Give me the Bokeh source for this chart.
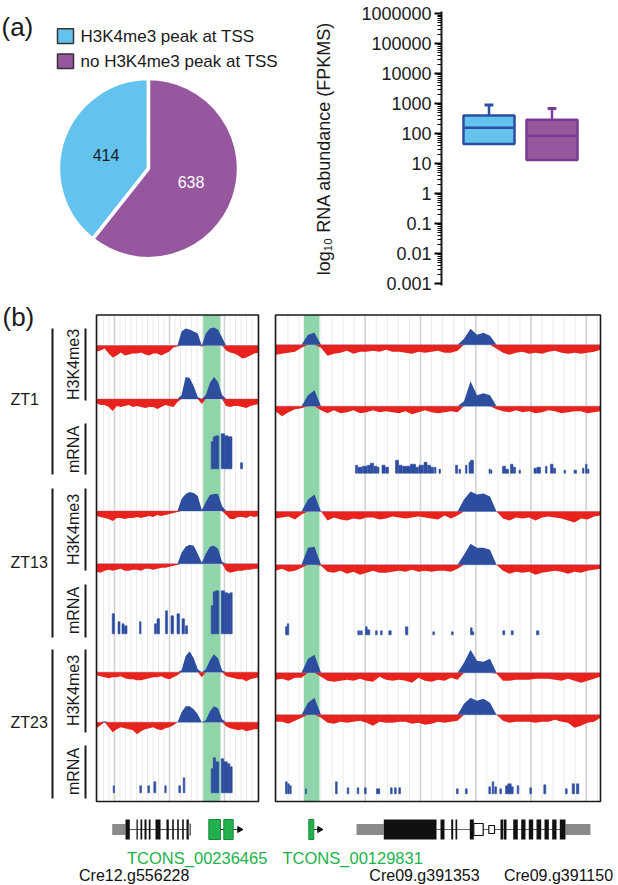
import numpy as np
from bokeh.plotting import figure
from bokeh.layouts import column, row
from bokeh.models import Range1d, FixedTicker, CustomJSTickFormatter
from bokeh.core.properties import value
from bokeh.embed import file_html
from bokeh.resources import INLINE

FONT = "Liberation Sans"

# ======================= (a) data =======================
pie_labels = ["H3K4me3 peak at TSS", "no H3K4me3 peak at TSS"]
pie_counts = [414, 638]
pie_colors = ["#63C3EE", "#96579F"]

box_x = [1, 2]
box_q1 = [45, 13]
box_median = [155, 85]
box_q3 = [400, 290]
box_whisker_high = [900, 680]
box_fill = ["#63C3EE", "#96579F"]
box_line = ["#2C4EA2", "#7A3C93"]
y_major_ticks = [0.001, 0.01, 0.1, 1, 10, 100, 1000, 10000, 100000, 1000000]

# ======================= (b) data =======================
# signal bins (kb within each browser window)
left_kb = np.linspace(0, 16.2, 41)
right_kb = np.linspace(0, 32.5, 51)

L_ZT1_a = [-6,-5,-3,-8,-12,-10,-7,-10,-9,-8,-8,-7,-9,-10,-8,-8,-10,-8,-6,-2,-1,14,17,16,14,12,-1,12,17,18,16,8,-5,-7,-8,-10,-13,-12,-10,-8,-7]
L_ZT1_b = [-4,-6,-6,-8,-12,-7,-8,-7,-6,-8,-7,-8,-9,-8,-8,-10,-8,-6,-7,-8,-3,4,22,21,13,2,-5,4,16,22,17,4,-7,-8,-7,-7,-8,-9,-7,-6,-5]
L_ZT13_a = [-5,-6,-7,-8,-10,-7,-7,-8,-7,-7,-6,-7,-6,-5,-6,-4,-5,-4,-3,-2,-1,12,17,19,18,15,1,9,16,17,17,5,-4,-8,-8,-6,-6,-7,-5,-6,-5]
L_ZT13_b = [-8,-9,-7,-6,-7,-6,-5,-7,-7,-6,-6,-7,-5,-5,-6,-5,-4,-4,-3,-2,-1,11,17,19,18,10,1,10,17,18,15,2,-7,-9,-8,-7,-7,-6,-6,-5,-5]
L_ZT23_a = [-3,-4,-5,-6,-5,-5,-4,-6,-7,-7,-8,-8,-7,-6,-5,-5,-4,-6,-7,-5,-3,2,16,21,14,3,-5,3,12,18,14,2,-4,-5,-6,-7,-7,-9,-7,-6,-5]
L_ZT23_b = [-6,-3,1,-5,-10,-7,-5,-6,-7,-8,-12,-9,-7,-6,-5,-7,-8,-6,-5,-3,0,10,16,16,13,8,0,2,11,16,14,3,-4,-6,-7,-8,-7,-9,-8,-7,-7]

R_ZT1_a = [-10,-9,-8,-7,-3,10,12,-3,-11,-9,-8,-6,-9,-7,-7,-6,-7,-5,-7,-7,-8,-9,-7,-8,-7,-6,-8,-8,-6,6,16,10,12,9,-4,-8,-10,-8,-7,-9,-8,-9,-7,-6,-8,-9,-8,-9,-8,-7,-5]
R_ZT1_b = [-5,-10,-6,-3,-2,11,16,-4,-7,-4,-7,-6,-4,-7,-6,-4,-6,-5,-6,-7,-5,-8,-6,-4,-6,-7,-6,-5,-6,5,25,11,13,11,-3,-5,-6,-4,-6,-5,-7,-6,-4,-5,-7,-6,-5,-5,-7,-6,-5]
R_ZT13_a = [-7,-6,-5,-8,-3,12,17,0,-9,-6,-8,-9,-7,-8,-6,-6,-8,-7,-5,-6,-7,-6,-5,-6,-7,-8,-4,-7,-4,12,20,17,18,15,0,-7,-9,-6,-7,-6,-9,-6,-5,-6,-7,-9,-11,-7,-8,-5,-4]
R_ZT13_b = [-6,-4,-7,-6,-3,17,18,-1,-7,-8,-6,-9,-7,-10,-8,-6,-8,-8,-7,-6,-7,-5,-7,-6,-7,-6,-6,-7,-4,10,21,17,17,15,0,-6,-9,-7,-8,-7,-10,-8,-7,-6,-7,-9,-7,-8,-6,-5,-4]
R_ZT23_a = [-7,-6,-8,-5,-5,14,18,-4,-8,-9,-8,-7,-8,-6,-8,-9,-4,-7,-8,-7,-8,-10,-5,-8,-9,-7,-8,-5,-7,10,23,12,11,14,-1,-8,-8,-7,-7,-7,-6,-6,-6,-7,-8,-6,-8,-10,-8,-6,-4]
R_ZT23_b = [-7,-7,-9,-6,-3,12,17,-3,-8,-9,-7,-8,-7,-6,-8,-11,-7,-8,-8,-7,-7,-9,-8,-10,-9,-7,-8,-7,-6,11,17,14,16,12,0,-6,-8,-7,-7,-7,-8,-7,-7,-5,-7,-8,-13,-11,-8,-7,-3]

# mRNA coverage blocks: (start kb, end kb, height)
L_mRNA_ZT1 = [(11.47,11.67,27),(11.67,11.9,32),(11.9,12.23,33),(12.47,12.8,35),(12.8,13.15,33),(13.15,13.55,32),(14.4,14.6,6)]
L_mRNA_ZT13 = [(1.57,1.8,20),(2.15,2.35,12),(2.55,2.75,10),(2.8,3.05,8),(4.3,4.45,12),(5.8,6.0,10),(6.05,6.3,15),
               (6.9,7.1,23),(7.45,7.7,18),(8.05,8.3,20),(8.55,8.8,15),(8.9,9.1,8),
               (11.47,11.67,28),(11.67,11.9,42),(11.9,12.23,43),(12.47,12.8,43),(12.8,13.13,41),(13.13,13.37,40),(13.37,13.57,41)]
L_mRNA_ZT23 = [(1.67,1.8,7),(4.33,4.5,7),(5.13,5.3,7),(5.73,5.93,11),(6.83,6.97,7),(8.23,8.4,7),(8.67,8.83,15),
               (11.47,11.67,24),(11.67,11.9,35),(11.9,12.23,31),(12.47,12.73,34),(12.73,13.07,31),(13.07,13.33,29),(13.33,13.57,26)]
R_mRNA_ZT1 = [(8.0,8.2,8),(8.25,8.65,6),(8.7,9.15,7),(9.2,9.5,8),(9.5,9.8,10),(9.85,10.15,7),(10.2,10.35,6),(10.65,10.95,8),
              (11.0,11.3,6),(12.0,12.3,13),(12.35,12.65,8),(12.7,13.5,7),(13.5,14.0,9),(14.0,14.3,6),(14.35,14.8,8),
              (14.85,15.15,11),(15.2,15.5,8),(15.5,15.8,6),(15.9,16.05,6),(16.35,16.5,4),(18.0,18.2,8),(18.35,18.5,4),
              (19.0,19.15,8),(19.35,19.5,11),(19.5,19.8,13),(21.35,21.5,4),(21.55,21.65,3),(22.7,23.0,7),(23.0,23.3,4),
              (23.5,23.75,9),(23.8,24.0,6),(24.35,24.5,3),(25.85,26.1,5),(26.15,26.5,6),(27.0,27.15,7),(27.5,27.75,9),
              (27.8,28.0,5),(28.85,29.0,3),(29.85,30.1,3),(30.7,30.85,5),(31.0,31.15,9),(31.2,31.35,4)]
R_mRNA_ZT13 = [(1.0,1.17,8),(1.17,1.33,11),(8.23,8.43,4),(8.5,8.67,4),(9.0,9.17,8),(9.17,9.43,5),(10.0,10.17,4),
               (10.5,10.67,4),(11.33,11.57,4),(13.0,13.23,8),(15.73,15.9,3),(17.6,17.77,3),(19.5,19.67,7),
               (19.67,19.83,3),(22.73,22.93,4),(23.57,23.77,4),(26.1,26.33,4)]
R_mRNA_ZT23 = [(1.0,1.17,12),(1.23,1.37,10),(1.43,1.57,8),(3.0,3.1,5),(6.0,6.17,12),(7.17,7.33,6),(8.17,8.33,6),
               (8.9,9.07,6),(10.1,10.43,5),(11.5,11.67,6),(11.9,12.07,6),(12.33,12.5,6),(18.1,18.27,5),(19.0,19.17,5),
               (21.33,21.5,7),(21.67,21.83,12),(21.93,22.1,7),(22.43,22.6,5),(23.0,23.23,8),(23.23,23.57,10),
               (23.57,23.77,7),(24.17,24.33,8),(25.43,25.6,6),(26.83,27.03,9),(29.0,29.17,5),(29.67,29.9,10),(30.1,30.33,10)]

# highlighted TSS windows (kb)
left_tss = (10.67, 12.4)
right_tss = (2.83, 4.4)

# gene models (kb)
cre12_utr = [(1.57, 2.9)]
cre12_exons = [(2.9,3.33),(4.0,4.13),(4.4,4.57),(4.8,5.0),(5.23,5.4),(5.9,6.4),(7.0,7.23),(7.57,7.73),(8.07,8.23),(8.57,8.73),(9.0,9.23)]
cre12_tail = [(9.23, 9.4)]
tcons1_exons = [(11.23, 12.4), (12.73, 13.67)]
tcons2_exons = [(3.33, 3.83)]
cre09_utr = [(8.1, 10.83), (29.0, 31.5)]
cre09_exons = [(10.83,16.1),(16.5,16.9),(17.57,17.77),(18.0,18.17),(19.43,19.83),(22.5,22.77),(22.83,23.1),(23.77,24.23),
               (24.57,25.0),(25.33,25.77),(26.1,26.57),(26.9,27.33),(27.67,28.1),(28.43,29.0)]
cre09_open = [(19.83, 20.77, 12), (21.33, 21.9, 8)]

RED = "#E8231E"
BLUE = "#2D4E9F"
GREEN_HL = "#8AD2A5"
GENE_GREEN = "#22B14C"

# ======================= (a) pie =======================
pie = figure(width=308, height=300, x_range=Range1d(0, 308), y_range=Range1d(0, 300),
             x_axis_location=None, y_axis_location=None, toolbar_location=None,
             output_backend="svg", min_border=0, outline_line_color=None)
pie.grid.visible = False

def PY(py):  # page y -> pie figure y
    return 300 - py

total = float(sum(pie_counts))
starts, ends = [], []
a = np.pi / 2
for c in pie_counts:
    starts.append(a)
    a += 2 * np.pi * c / total
    ends.append(a)
cx, cy, rad = 148, PY(172), 90
pie.wedge(x=cx, y=cy, radius=rad, start_angle=starts, end_angle=ends,
          fill_color=pie_colors, line_color="white", line_width=3.5)
mids = [(s + e) / 2 for s, e in zip(starts, ends)]
pie.text(x=[cx + 45 * np.cos(m) for m in mids], y=[cy + 45 * np.sin(m) for m in mids],
         text=[str(c) for c in pie_counts], text_color=["#1a1a1a", "white"],
         text_align="center", text_baseline="middle", text_font=value(FONT), text_font_size="16px")

leg_y = [PY(27), PY(54.5)]
pie.quad(left=57, right=73, top=[y + 8 for y in leg_y], bottom=[y - 8 for y in leg_y],
         fill_color=pie_colors, line_color="#333333", line_width=1.5)
pie.text(x=80, y=leg_y, text=pie_labels, text_color="#1a1a1a", text_align="left",
         text_baseline="middle", text_font=value(FONT), text_font_size="17px")
pie.text(x=[1], y=[PY(17)], text=["(a)"], text_color="#1a1a1a", text_align="left",
         text_baseline="middle", text_font=value(FONT), text_font_size="26px")

# ======================= (a) box plot =======================
X0_BOX = 0.246          # data x at the frame's left edge (frame = page x 441..618)
PX_PER_GROUP = 63.0
box = figure(width=310, height=300, y_axis_type="log",
             x_range=Range1d(X0_BOX, X0_BOX + 177 / PX_PER_GROUP), y_range=Range1d(0.00085, 1.18e6),
             x_axis_location=None, toolbar_location=None, output_backend="svg",
             min_border_left=133, min_border_top=11, min_border_bottom=15, min_border_right=0,
             outline_line_color=None)
box.grid.visible = False
minor = [m * 10.0 ** k for k in range(-3, 6) for m in range(2, 10)]
ax = box.yaxis[0]
ax.ticker = FixedTicker(ticks=y_major_ticks, minor_ticks=minor)
ax.formatter = CustomJSTickFormatter(code="return tick >= 1 ? tick.toFixed(0) : String(parseFloat(tick.toPrecision(6)));")
ax.major_label_text_font = FONT
ax.major_label_text_font_size = "18px"
ax.major_label_text_color = "#1a1a1a"
ax.axis_line_width = 2
ax.axis_line_color = "#1a1a1a"
ax.major_tick_line_width = 2
ax.major_tick_out = 7
ax.major_tick_in = 0
ax.minor_tick_out = 4
ax.minor_tick_in = 0
ax.minor_tick_line_width = 1
ax.major_label_standoff = 3
ax.axis_label = "log\u2081\u2080 RNA abundance (FPKMS)"
ax.axis_label_text_font = FONT
ax.axis_label_text_font_size = "18px"
ax.axis_label_text_font_style = "normal"
ax.axis_label_text_color = "#1a1a1a"
ax.axis_label_standoff = 24

bw = 0.81
box.segment(x0=box_x, x1=box_x, y0=box_q3, y1=box_whisker_high, line_color=box_line, line_width=2.5)
box.segment(x0=[x - 0.07 for x in box_x], x1=[x + 0.07 for x in box_x], y0=box_whisker_high,
            y1=box_whisker_high, line_color=box_line, line_width=3)
box.vbar(x=box_x, width=bw, bottom=box_q1, top=box_q3, fill_color=box_fill, line_color=box_line, line_width=2.5)
box.segment(x0=[x - bw / 2 for x in box_x], x1=[x + bw / 2 for x in box_x], y0=box_median, y1=box_median,
            line_color=box_line, line_width=2.5)

# ======================= (b) genome browser =======================
pb = figure(width=618, height=585, x_range=Range1d(0, 618), y_range=Range1d(0, 585),
            x_axis_location=None, y_axis_location=None, toolbar_location=None,
            output_backend="svg", min_border=0, outline_line_color=None)
pb.grid.visible = False

def X(px):
    r = np.asarray(px, dtype=float) * 1.0
    return float(r) if r.ndim == 0 else r

def Y(py):
    r = 885.0 - np.asarray(py, dtype=float)
    return float(r) if r.ndim == 0 else r

PANELS = {"L": 96.0, "R": 275.0}   # page x of each window's left edge
PX_PER_KB = 10.0
L_RIGHT, R_RIGHT = 258.0, 600.0
FR_TOP, FR_BOT = 314.5, 801.0

def gx(panel, kb):
    return X(PANELS[panel] + np.asarray(kb, dtype=float) * PX_PER_KB)

# grid lines
def grid(panel, right_edge, first_major, major_step, n_minor):
    width_kb = (right_edge - PANELS[panel]) / PX_PER_KB
    minor_step = major_step / n_minor
    start = first_major - minor_step * int(first_major / minor_step)
    mins = np.arange(start, width_kb, minor_step)
    majs = np.arange(first_major, width_kb, major_step)
    xs = gx(panel, mins)
    pb.segment(x0=xs, x1=xs, y0=Y(FR_TOP), y1=Y(FR_BOT), line_color="#EBEBEB", line_width=1)
    xs = gx(panel, majs)
    pb.segment(x0=xs, x1=xs, y0=Y(FR_TOP), y1=Y(FR_BOT), line_color="#D2D2D2", line_width=1.6)

grid("L", L_RIGHT, 1.8, 5.5, 10)
grid("R", R_RIGHT, 3.45, 5.525, 5)

# TSS highlight
pb.quad(left=[gx("L", left_tss[0]), gx("R", right_tss[0])], right=[gx("L", left_tss[1]), gx("R", right_tss[1])],
        bottom=Y(FR_BOT), top=Y(FR_TOP), fill_color=GREEN_HL, fill_alpha=0.95, line_color=None)

# tracks
left_base = [345, 398.5, 510.5, 563.3, 671.7, 721.7]
right_base = [344.3, 405.7, 511, 564.3, 672.3, 714.3]
left_mrna_bottom = [468.3, 633.3, 792.3]
right_mrna_bottom = [472.7, 634.3, 793.3]

def draw_track(panel, kb, vals, base_py, right_edge):
    x = gx(panel, kb)
    v = np.asarray(vals, dtype=float)
    yb = Y(base_py)
    pb.segment(x0=[X(PANELS[panel])], x1=[X(right_edge)], y0=[yb], y1=[yb], line_color="#AEB9D6", line_width=1)
    pb.varea(x=x, y1=np.full(len(x), yb), y2=yb + np.minimum(v, 0), fill_color=RED)
    pb.varea(x=x, y1=np.full(len(x), yb), y2=yb + np.maximum(v, 0), fill_color=BLUE)

def draw_mrna(panel, blocks, bottom_py):
    s = [b[0] for b in blocks]
    e = [b[1] for b in blocks]
    h = np.array([b[2] for b in blocks], dtype=float)
    yb = Y(bottom_py)
    pb.quad(left=gx(panel, s), right=gx(panel, e), bottom=yb, top=yb + h, fill_color=BLUE,
            line_color=BLUE, line_width=0.6)

for vals, base in zip([L_ZT1_a, L_ZT1_b, L_ZT13_a, L_ZT13_b, L_ZT23_a, L_ZT23_b], left_base):
    draw_track("L", left_kb, vals, base, L_RIGHT)
for vals, base in zip([R_ZT1_a, R_ZT1_b, R_ZT13_a, R_ZT13_b, R_ZT23_a, R_ZT23_b], right_base):
    draw_track("R", right_kb, vals, base, R_RIGHT)
for blocks, b in zip([L_mRNA_ZT1, L_mRNA_ZT13, L_mRNA_ZT23], left_mrna_bottom):
    draw_mrna("L", blocks, b)
for blocks, b in zip([R_mRNA_ZT1, R_mRNA_ZT13, R_mRNA_ZT23], right_mrna_bottom):
    draw_mrna("R", blocks, b)

# window frames
pb.quad(left=[X(96), X(275)], right=[X(L_RIGHT), X(R_RIGHT)], bottom=Y(FR_BOT), top=Y(FR_TOP),
        fill_color=None, line_color="#1a1a1a", line_width=1.6)

# left labels
pb.text(x=X([10, 10, 10]), y=Y([399, 562, 722]), text=["ZT1", "ZT13", "ZT23"], text_color="#1a1a1a",
        text_align="left", text_baseline="middle", text_font=value(FONT), text_font_size="16px")
grp = [(328, 474), (488, 637), (649, 798)]
pb.segment(x0=X(52), x1=X(52), y0=Y([g[0] for g in grp]), y1=Y([g[1] for g in grp]),
           line_color="#1a1a1a", line_width=2)
sub = [(328, 400), (423, 474), (488, 570), (584, 637), (649, 732), (745, 798)]
pb.segment(x0=X(85), x1=X(85), y0=Y([s[0] for s in sub]), y1=Y([s[1] for s in sub]),
           line_color="#1a1a1a", line_width=2)
pb.text(x=X(73), y=Y([364, 449, 529, 610, 690, 771]),
        text=["H3K4me3", "mRNA", "H3K4me3", "mRNA", "H3K4me3", "mRNA"], angle=np.pi / 2,
        text_color="#1a1a1a", text_align="center", text_baseline="middle",
        text_font=value(FONT), text_font_size="16px")
pb.text(x=[X(2)], y=[Y(316)], text=["(b)"], text_color="#1a1a1a", text_align="left",
        text_baseline="middle", text_font=value(FONT), text_font_size="26px")

# gene models
GC = 829.0
def exon_boxes(panel, blocks, half_h, fill, line=None, lw=1):
    pb.quad(left=gx(panel, [b[0] for b in blocks]), right=gx(panel, [b[1] for b in blocks]),
            bottom=Y(GC + half_h), top=Y(GC - half_h), fill_color=fill, line_color=line, line_width=lw)

# Cre12.g556228
pb.segment(x0=[gx("L", 2.9)], x1=[gx("L", 9.3)], y0=[Y(GC)], y1=[Y(GC)], line_color="#555555", line_width=1)
exon_boxes("L", cre12_utr, 5.5, "#8A8A8A")
exon_boxes("L", cre12_exons, 10, "#111111")
exon_boxes("L", cre12_tail, 5.5, "#CFCFCF", "#666666", 1)
# TCONS_00236465
pb.segment(x0=[gx("L", 12.4)], x1=[gx("L", 14.2)], y0=[Y(GC)], y1=[Y(GC)], line_color="#333333", line_width=1)
exon_boxes("L", tcons1_exons, 10, GENE_GREEN, "#178A3A", 1)
# TCONS_00129831
pb.segment(x0=[gx("R", 3.83)], x1=[gx("R", 4.3)], y0=[Y(GC)], y1=[Y(GC)], line_color="#333333", line_width=1)
exon_boxes("R", tcons2_exons, 10, GENE_GREEN, "#178A3A", 1)
pb.scatter(x=[gx("L", 14.3), gx("R", 4.4)], y=[Y(GC), Y(GC)], marker="triangle", size=6,
           angle=-np.pi / 2, fill_color="#111111", line_color="#111111")
# Cre09 genes
pb.segment(x0=[gx("R", 16.1)], x1=[gx("R", 29.0)], y0=[Y(GC)], y1=[Y(GC)], line_color="#666666", line_width=1.2)
exon_boxes("R", cre09_utr, 5.5, "#8A8A8A")
exon_boxes("R", cre09_exons, 10, "#111111")
pb.quad(left=gx("R", [o[0] for o in cre09_open]), right=gx("R", [o[1] for o in cre09_open]),
        bottom=Y([GC + o[2] / 2 for o in cre09_open]), top=Y([GC - o[2] / 2 for o in cre09_open]),
        fill_color="white", line_color="#111111", line_width=1.2)

# gene labels
pb.text(x=X([196.7, 352.2]), y=Y([857, 857]), text=["TCONS_00236465", "TCONS_00129831"],
        text_color=GENE_GREEN, text_align="center", text_baseline="alphabetic",
        text_font=value(FONT), text_font_size="16.5px")
pb.text(x=X([133.7, 424, 558]), y=Y([875, 875, 875]), text=["Cre12.g556228", "Cre09.g391353", "Cre09.g391150"],
        text_color="#111111", text_align="center", text_baseline="alphabetic",
        text_font=value(FONT), text_font_size="16px")

layout = column(row(pie, box), pb)
open("out.html", "w").write(file_html(layout, INLINE))
